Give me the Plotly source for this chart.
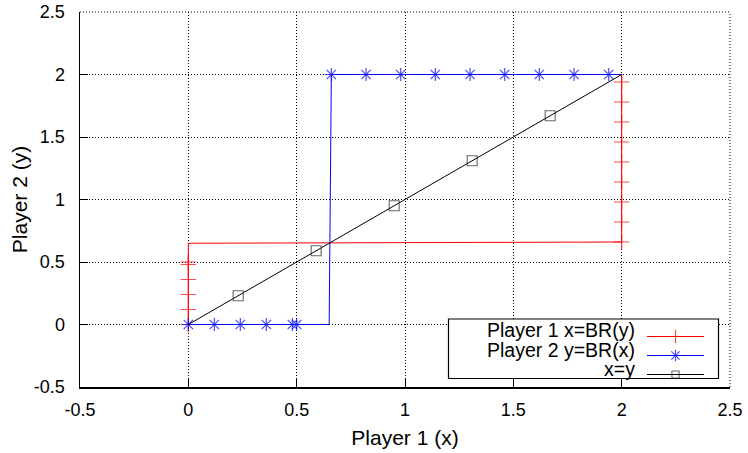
import plotly.graph_objects as go

# ---- data ----
t_values = [0, 0.12, 0.24, 0.36, 0.48, 0.50, 0.65, 0.66, 0.82, 0.98, 1.14,
            1.30, 1.46, 1.62, 1.78, 1.94, 2.0]
br_values = [0, 0, 0, 0, 0, 0, 0, 2, 2, 2, 2, 2, 2, 2, 2, 2, 2]
has_marker = [1, 1, 1, 1, 1, 1, 0, 1, 1, 1, 1, 1, 1, 1, 1, 1, 0]

diag_values = [0, 0.23, 0.59, 0.95, 1.31, 1.67, 2.0]
diag_marker = [0, 1, 1, 1, 1, 1, 0]

series_names = ["Player 1 x=BR(y)", "Player 2 y=BR(x)", "x=y"]
tick_vals = [-0.5, 0, 0.5, 1, 1.5, 2, 2.5]
tick_text = ["-0.5", "0", "0.5", "1", "1.5", "2", "2.5"]
x_title = "Player 1 (x)"
y_title = "Player 2 (y)"

FONT = "Liberation Sans, Arial, Helvetica, sans-serif"

fig = go.Figure()

fig.add_trace(go.Scatter(
    x=br_values, y=t_values, mode="lines+markers", name="",
    line=dict(color="#ff0000", width=1),
    marker=dict(symbol="cross-thin", size=[11 * m for m in has_marker],
                color="#ff0000", line=dict(color="#ff0000", width=1.2)),
))
fig.add_trace(go.Scatter(
    x=t_values, y=br_values, mode="lines+markers", name="",
    line=dict(color="#0000ff", width=1),
    marker=dict(symbol="asterisk", size=[11 * m for m in has_marker],
                color="#0000ff", line=dict(color="#0000ff", width=1.2)),
))
fig.add_trace(go.Scatter(
    x=diag_values, y=diag_values, mode="lines+markers", name="",
    line=dict(color="#000000", width=1),
    marker=dict(symbol="square-open", size=[10 * m for m in diag_marker],
                color="#222222", line=dict(color="#222222", width=1.1)),
))

axis_common = dict(
    range=[-0.5, 2.5], tickvals=tick_vals, ticktext=tick_text,
    ticks="inside", ticklen=8, tickwidth=1, tickcolor="#000",
    showline=True, linecolor="#000", linewidth=1.5,
    showgrid=True, gridcolor="#000", gridwidth=1, griddash="1px,2px",
    zeroline=False, mirror=False, automargin=False,
    ticklabeloverflow="allow",
    tickfont=dict(family=FONT, size=18, color="#000"),
    fixedrange=True,
)

fig.update_xaxes(**axis_common, ticklabelstandoff=6,
                 title=dict(text=x_title, font=dict(family=FONT, size=21, color="#000"), standoff=11))
fig.update_yaxes(**axis_common, ticklabelstandoff=10,
                 title=dict(text=y_title, font=dict(family=FONT, size=21, color="#000"), standoff=0))

FIG_W, FIG_H = 748, 453
L, T, W, H = 80, 12, 650, 375


def px_x(p):
    return (p - L) / W


def px_y(p):
    return (T + H - p) / H


# grid lines at the far range edges (plotly clips them)
fig.add_shape(type="line", xref="paper", yref="paper", x0=0, x1=1, y0=1, y1=1,
              line=dict(color="#000", width=1, dash="1px,2px"), layer="below")
fig.add_shape(type="line", xref="paper", yref="paper", x0=1, x1=1, y0=0, y1=1,
              line=dict(color="#000", width=1, dash="1px,2px"), layer="below")

# legend box (gnuplot style: text on left, sample on right)
fig.add_shape(type="rect", xref="paper", yref="paper",
              x0=px_x(448.5), x1=px_x(718.5), y0=px_y(378.5), y1=px_y(319),
              fillcolor="white", line=dict(color="#000", width=1.2), layer="above")

row_y = [330, 349.5, 369]
for name, yy in zip(series_names, row_y):
    fig.add_annotation(text=name, xref="paper", yref="paper",
                       x=px_x(637), y=px_y(yy), xanchor="right", yanchor="middle",
                       showarrow=False, font=dict(family=FONT, size=19.5, color="#000"))

fig.update_layout(
    width=FIG_W, height=FIG_H,
    margin=dict(l=L, r=FIG_W - L - W, t=T, b=FIG_H - T - H, autoexpand=False),
    paper_bgcolor="white", plot_bgcolor="white",
    showlegend=True,
    legend=dict(x=px_x(642), y=px_y(322), xanchor="left", yanchor="top",
                bgcolor="rgba(0,0,0,0)", borderwidth=0, itemwidth=57,
                font=dict(family=FONT, size=10), tracegroupgap=0,
                itemclick=False, itemdoubleclick=False),
)

fig.write_html("out.html",
               config={"displayModeBar": False, "staticPlot": True},
               post_script="document.body.style.margin='0px';document.body.style.overflow='hidden';")
